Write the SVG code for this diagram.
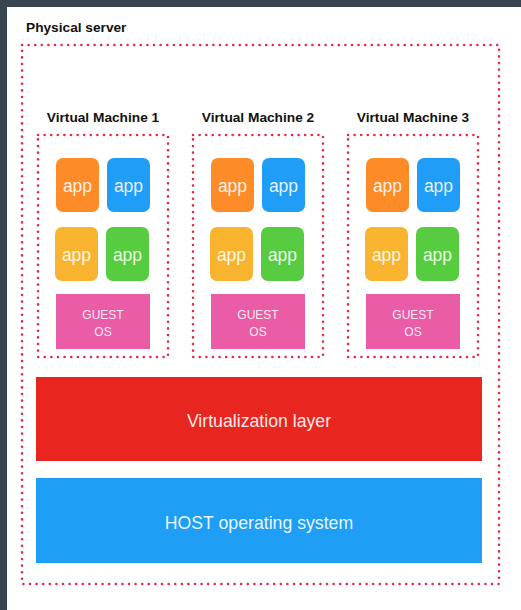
<svg xmlns="http://www.w3.org/2000/svg" width="521" height="610" viewBox="0 0 521 610">
<style>
.dot{fill:none;stroke:#e3294a;stroke-width:2.6;stroke-linecap:round;stroke-dasharray:0 6.6}
.lbl{font-family:"Liberation Sans",Arial,sans-serif;font-weight:bold;font-size:13.7px;fill:#111}
.app{font-family:"Liberation Sans",Arial,sans-serif;font-size:17.5px;fill:#fff;fill-opacity:0.9;text-anchor:middle}
.os{font-family:"Liberation Sans",Arial,sans-serif;font-size:12px;fill:#fff;fill-opacity:0.9;text-anchor:middle}
.big{font-family:"Liberation Sans",Arial,sans-serif;font-size:17.7px;fill:#fff;fill-opacity:0.92;text-anchor:middle}
</style>
<defs>
<g id="vm">
<rect class="dot" x="38" y="135" width="130" height="222"/>
<rect x="56" y="158" width="43" height="54" rx="7" fill="#fd8b27"/>
<text class="app" x="77.5" y="192">app</text>
<rect x="107" y="158" width="43" height="54" rx="7" fill="#1f9df7"/>
<text class="app" x="128.5" y="192">app</text>
<rect x="55" y="227" width="43" height="54" rx="7" fill="#f8b42e"/>
<text class="app" x="76.5" y="261">app</text>
<rect x="106" y="227" width="43" height="54" rx="7" fill="#57cc40"/>
<text class="app" x="127.5" y="261">app</text>
<rect x="56" y="294" width="94" height="55" fill="#ea5ca6"/>
<text class="os" x="103" y="319">GUEST</text>
<text class="os" x="103" y="336">OS</text>
</g>
</defs>
<rect width="521" height="610" fill="#36454f"/>
<rect x="7" y="7" width="514" height="603" fill="#fff"/>
<g id="physical-server">
<text class="lbl" x="26" y="32">Physical server</text>
<rect class="dot" x="22" y="45" width="477" height="539"/>
</g>
<g id="vm1">
<text class="lbl" x="103" y="122" text-anchor="middle">Virtual Machine 1</text>
<use href="#vm"/>
</g>
<g id="vm2">
<text class="lbl" x="258" y="122" text-anchor="middle">Virtual Machine 2</text>
<use href="#vm" x="155"/>
</g>
<g id="vm3">
<text class="lbl" x="413" y="122" text-anchor="middle">Virtual Machine 3</text>
<use href="#vm" x="310"/>
</g>
<g id="virtualization-layer">
<rect x="36" y="377" width="446" height="84" fill="#e8261f"/>
<text class="big" x="259" y="427">Virtualization layer</text>
</g>
<g id="host-os">
<rect x="36" y="478" width="446" height="85" fill="#1e9ff5"/>
<text class="big" x="259" y="529">HOST operating system</text>
</g>
<g id="connectors"/>
</svg>
